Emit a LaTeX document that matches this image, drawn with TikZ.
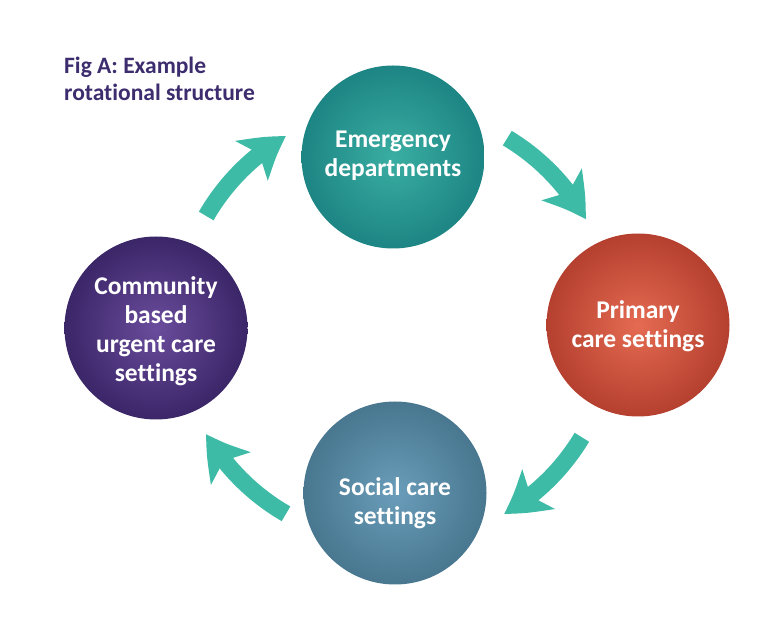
\documentclass[tikz,border=0pt]{standalone}
\usepackage{fontspec}
\setmainfont{Carlito}[RawFeature=-liga]
\usetikzlibrary{arrows.meta,bending,calc}
\definecolor{titlecol}{HTML}{3D2D6E}
\definecolor{arrowcol}{HTML}{3DBBA6}
\definecolor{emerIn}{HTML}{3AAEA2}
\definecolor{emerOut}{HTML}{1D8584}
\definecolor{primIn}{HTML}{E56B52}
\definecolor{primOut}{HTML}{B5402F}
\definecolor{socIn}{HTML}{6A9DBA}
\definecolor{socOut}{HTML}{48778F}
\definecolor{commIn}{HTML}{6A4C9C}
\definecolor{commOut}{HTML}{3B2668}
\tikzset{
  ball/.style={circle, minimum size=183pt, inner sep=0pt},
  balltext/.style={text=white, inner sep=0pt,
    font=\fontsize{25.5}{29}\selectfont\bfseries, align=center},
  rotarrow/.style={draw=arrowcol, line width=17pt,
    -{Stealth[length=42pt, width=50pt, inset=10pt, bend]}},
  title/.style={anchor=north west, text=titlecol, align=left, inner sep=0pt,
    font=\fontsize{23.5}{27}\selectfont\bfseries}
}
\begin{document}
\begin{tikzpicture}[x=1pt,y=1pt]
\useasboundingbox (0,0) rectangle (784,618);
\fill[white] (0,0) rectangle (784,618);
\node[title] (ttl) at (64,561) {Fig A: Example\\rotational structure};
\node[ball, inner color=emerIn, outer color=emerOut] (emer) at (393,461) {};
\node[balltext] (emertxt) at ($(emer)+(0,1)$) {Emergency\\departments};
\node[ball, inner color=primIn, outer color=primOut] (prim) at (638,293) {};
\node[balltext] (primtxt) at ($(prim)+(0,-1)$) {Primary\\care settings};
\node[ball, inner color=socIn, outer color=socOut] (soc) at (395,125) {};
\node[balltext] (soctxt) at ($(soc)+(0,-10)$) {Social care\\settings};
\node[ball, inner color=commIn, outer color=commOut] (comm) at (156,290) {};
\node[balltext] (commtxt) at ($(comm)+(0,-3)$) {Community\\based\\urgent care\\settings};
\coordinate (ctr) at (395,293);
\coordinate (s1) at ($(ctr)+(150:218)$);
\coordinate (s2) at ($(ctr)+(59:218)$);
\coordinate (s3) at ($(ctr)+(-31:218)$);
\coordinate (s4) at ($(ctr)+(-120:218)$);
\draw[rotarrow] (s1) arc[start angle=150, end angle=120, radius=218];
\draw[rotarrow] (s2) arc[start angle=59, end angle=29, radius=218];
\draw[rotarrow] (s3) arc[start angle=-31, end angle=-60, radius=218];
\draw[rotarrow] (s4) arc[start angle=-120, end angle=-150, radius=218];
\end{tikzpicture}
\end{document}
